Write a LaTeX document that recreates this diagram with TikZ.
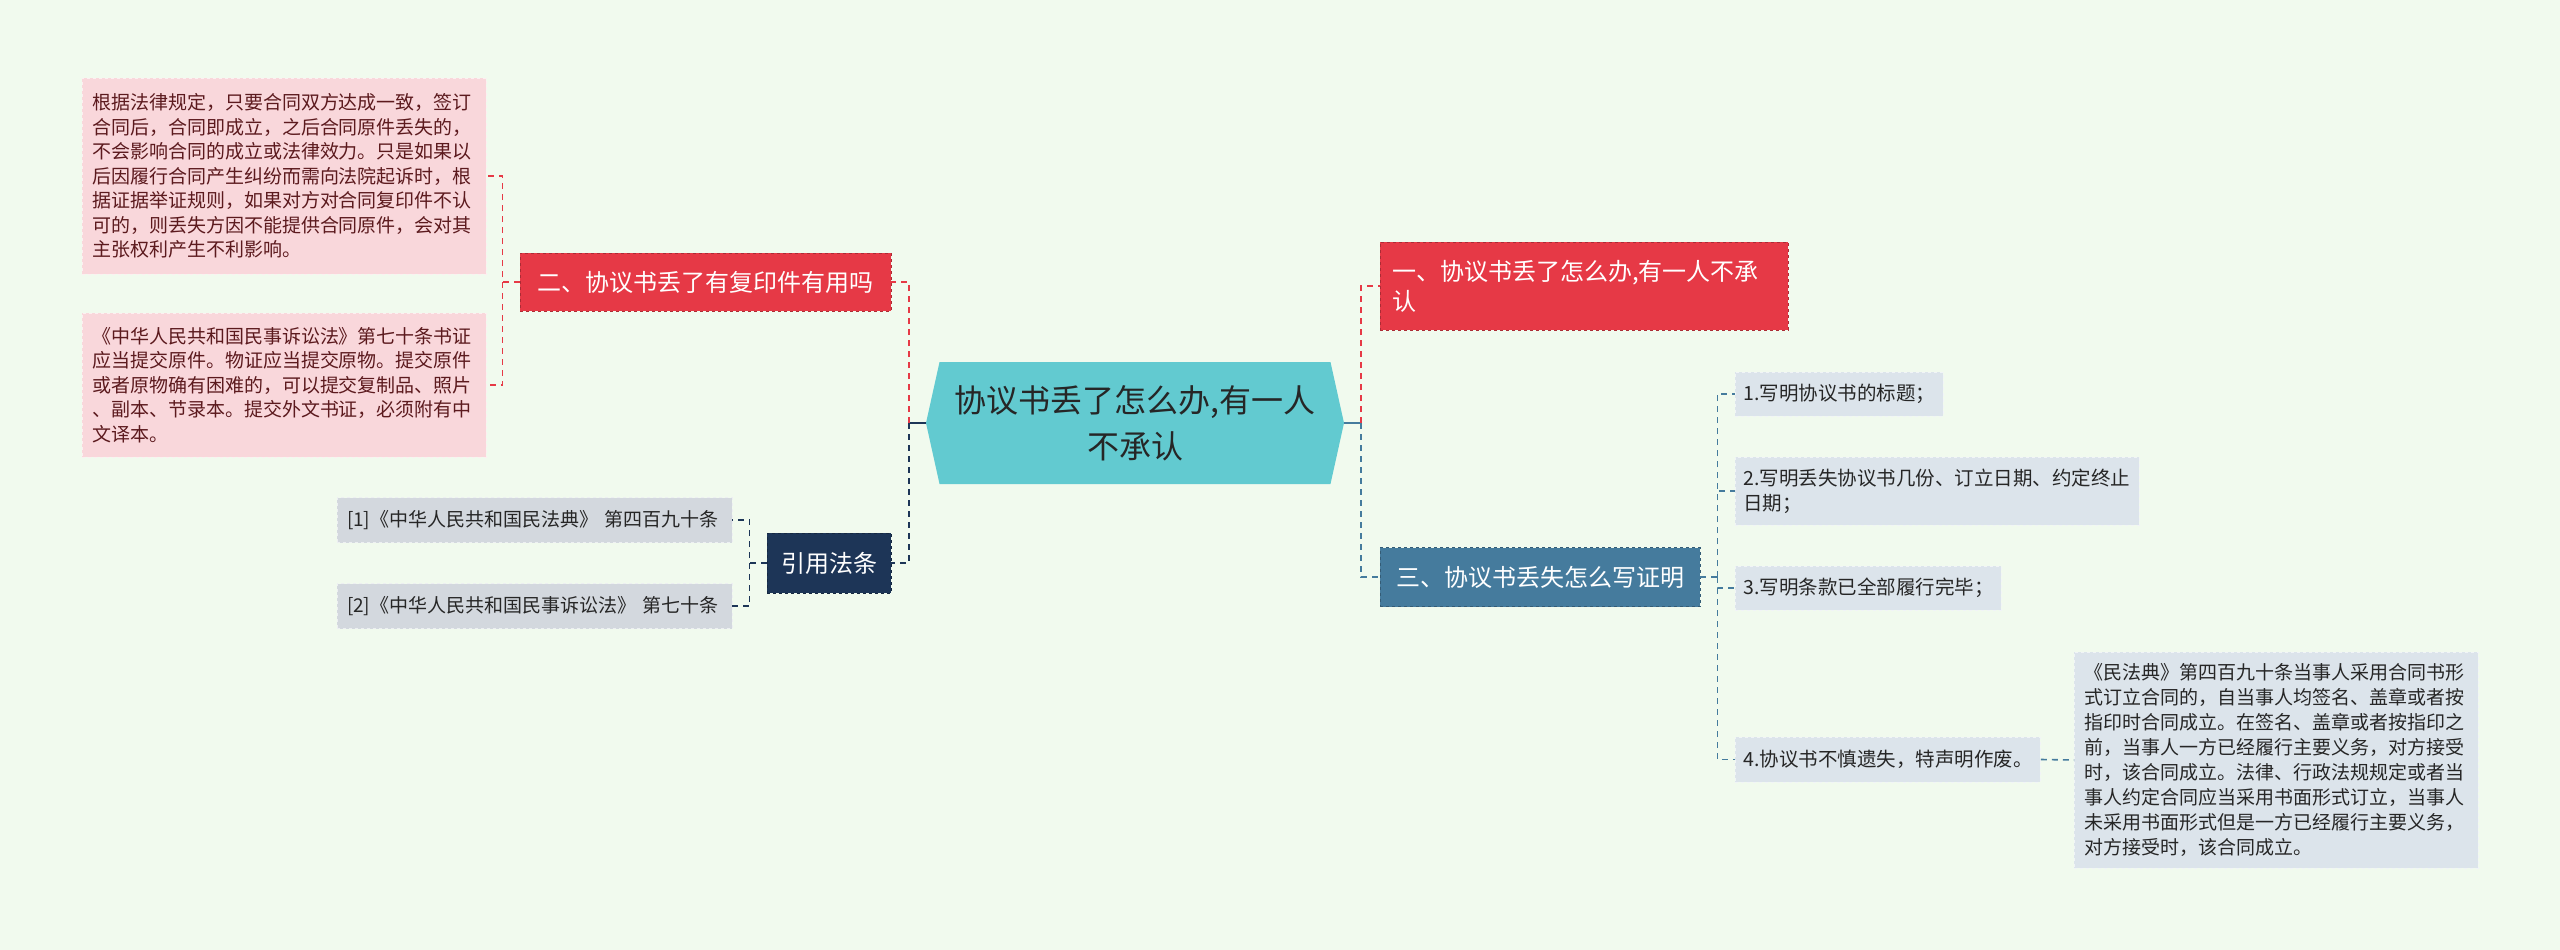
\documentclass[tikz,border=0pt]{standalone}
\usepackage{fontspec}
\setmainfont{Noto Sans CJK SC}
\usepackage{xcolor}
\definecolor{mint}{RGB}{241, 250, 238}
\definecolor{rootteal}{RGB}{98, 202, 208}
\definecolor{alarmred}{RGB}{230, 57, 70}
\definecolor{steelblue}{RGB}{69, 123, 157}
\definecolor{navyblue}{RGB}{29, 53, 87}
\definecolor{pinkbox}{RGB}{249, 215, 219}
\definecolor{greybox}{RGB}{211, 216, 222}
\definecolor{paleblue}{RGB}{220, 228, 235}
\definecolor{maroon}{RGB}{92, 26, 30}
\usepackage{tikz}
\usetikzlibrary{shapes.symbols,calc}

\begin{document}
\begin{tikzpicture}[x = 1pt, y = -1pt,
  topic/.style = {fill = #1, draw = #1!75!black, dashed, line width = .8pt, text = white, font = \fontsize{24}{30}\selectfont, inner sep = 0pt},
  leaf/.style = {fill = #1, draw = white!60!#1, dashed, line width = .8pt, text = black!85, font = \fontsize{19.5}{25}\selectfont, align = left, inner sep = 0pt},
  link/.style = {draw = #1, line width = 1.6pt, dash pattern = on 6pt off 5pt},
  stub/.style = {draw = #1, line width = 2pt}]
\fill[mint] (0,0) rectangle (2560,950);
\useasboundingbox (0,0) rectangle (2560,950);
% Root
\node[shape = signal, signal to = east and west, signal pointer angle = 155, fill = rootteal, minimum width = 418, minimum height = 122, inner sep = 0pt, align = center, font = \fontsize{32}{46}\selectfont, text = black!85] (root) at (1135,423) {协议书丢了怎么办,有一人\\不承认};
% Main topics
\node[topic = alarmred, minimum width = 408, minimum height = 88, text width = 384, align = left] (loss) at (1584,286) {一、协议书丢了怎么办,有一人不承\\认};
\node[topic = alarmred, minimum width = 371, minimum height = 58] (copy) at (705.5,282) {二、协议书丢了有复印件有用吗};
\node[topic = steelblue, minimum width = 320, minimum height = 59] (proof) at (1540,577) {三、协议书丢失怎么写证明};
\node[topic = navyblue, minimum width = 124, minimum height = 60] (law) at (829,563) {引用法条};
% Copy branch
\node[leaf = pinkbox, text = maroon, font = \fontsize{19}{24.5}\selectfont, minimum width = 404, minimum height = 196, text width = 384] (rule) at (284,176) {根据法律规定，只要合同双方达成一致，签订\\合同后，合同即成立，之后合同原件丢失的，\\不会影响合同的成立或法律效力。只是如果以\\后因履行合同产生纠纷而需向法院起诉时，根\\据证据举证规则，如果对方对合同复印件不认\\可的，则丢失方因不能提供合同原件，会对其\\主张权利产生不利影响。};
\node[leaf = pinkbox, text = maroon, font = \fontsize{19}{24.5}\selectfont, minimum width = 404, minimum height = 144, text width = 384] (evid) at (284,385) {《中华人民共和国民事诉讼法》第七十条书证\\应当提交原件。物证应当提交原物。提交原件\\或者原物确有困难的，可以提交复制品、照片\\、副本、节录本。提交外文书证，必须附有中\\文译本。};
% Law references
\node[leaf = greybox, font = \fontsize{19}{24}\selectfont, minimum width = 395, minimum height = 45, text width = 375] (ref1) at (534.5,520) {[1]《中华人民共和国民法典》 第四百九十条};
\node[leaf = greybox, font = \fontsize{19}{24}\selectfont, minimum width = 395, minimum height = 45, text width = 375] (ref2) at (534.5,606) {[2]《中华人民共和国民事诉讼法》 第七十条};
% Proof steps
\node[leaf = paleblue, anchor = west, minimum width = 208, minimum height = 44, text width = 192] (step1) at (1735,394) {1.写明协议书的标题；};
\node[leaf = paleblue, anchor = west, minimum width = 404, minimum height = 68, text width = 388] (step2) at (1735,491) {2.写明丢失协议书几份、订立日期、约定终止\\日期；};
\node[leaf = paleblue, anchor = west, minimum width = 266, minimum height = 44, text width = 250] (step3) at (1735,588) {3.写明条款已全部履行完毕；};
\node[leaf = paleblue, anchor = west, minimum width = 305, minimum height = 45, text width = 289] (step4) at (1735,759.5) {4.协议书不慎遗失，特声明作废。};
\node[leaf = paleblue, anchor = west, font = \fontsize{19}{25}\selectfont, minimum width = 404, minimum height = 216, text width = 384] (note) at (2074,760) {《民法典》第四百九十条当事人采用合同书形\\式订立合同的，自当事人均签名、盖章或者按\\指印时合同成立。在签名、盖章或者按指印之\\前，当事人一方已经履行主要义务，对方接受\\时，该合同成立。法律、行政法规规定或者当\\事人约定合同应当采用书面形式订立，当事人\\未采用书面形式但是一方已经履行主要义务，\\对方接受时，该合同成立。};
% Connectors
\draw[stub = steelblue] (root.east) -- ++(17,0) coordinate (rj);
\draw[link = alarmred] (rj) |- (loss.west);
\draw[link = steelblue] (rj) |- (proof.west);
\draw[stub = navyblue] (root.west) -- ++(-17,0) coordinate (lj);
\draw[link = alarmred] (lj) |- (copy.east);
\draw[link = navyblue] (lj) |- (law.east);
\draw[link = alarmred] (copy.west) -- ++(-17,0) coordinate (cj) |- (rule.east);
\draw[link = alarmred] (cj) |- (evid.east);
\draw[link = navyblue] (law.west) -- ++(-17,0) coordinate (aj) |- (ref1.east);
\draw[link = navyblue] (aj) |- (ref2.east);
\draw[link = steelblue] (proof.east) -- ++(17,0) coordinate (pj);
\foreach \s in {step1,step2,step3,step4}
  \draw[link = steelblue] (pj) |- (\s.west);
\draw[link = steelblue] (step4.east) -- (note.west);
\end{tikzpicture}
\end{document}
